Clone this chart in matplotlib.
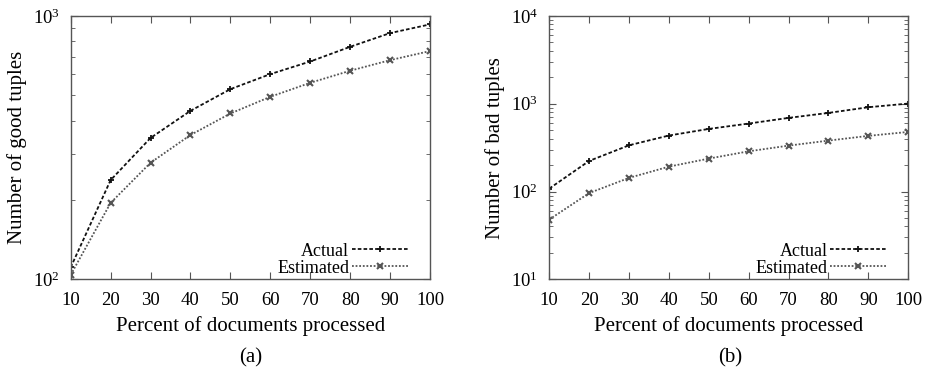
import matplotlib
matplotlib.use("Agg")
import matplotlib.pyplot as plt
from matplotlib.ticker import LogLocator, FixedLocator, NullFormatter

plt.rcParams['font.family'] = ['Liberation Serif', 'DejaVu Serif']
plt.rcParams['mathtext.fontset'] = 'stix'

pct = [10, 20, 30, 40, 50, 60, 70, 80, 90, 100]

# (a) good tuples
good_actual = [111, 238, 344, 436, 527, 601, 671, 763, 860, 928]
good_est = [104, 195, 277, 353, 426, 493, 557, 619, 679, 735]

# (b) bad tuples
bad_actual = [108, 223, 336, 434, 516, 594, 689, 785, 911, 1003]
bad_est = [48, 96, 143, 192, 237, 287, 333, 380, 430, 477]

fig = plt.figure(figsize=(9.25, 3.77), dpi=100)
ax1 = fig.add_axes([0.0764, 0.259, 0.3885, 0.699])
ax2 = fig.add_axes([0.5938, 0.259, 0.3881, 0.699])


def panel(ax, act, est, ylim, ylabel, caption, cx):
    ax.plot(pct, act, color='#111111', ls=(0, (2, 1.2)), lw=1.3,
            marker='+', ms=5, mew=1.3, label='Actual')
    ax.plot(pct, est, color='#555555', ls=(0, (1, 1)), lw=1.3,
            marker='x', ms=4, mew=1.5, label='Estimated')
    ax.set_yscale('log')
    ax.set_xlim(10, 100)
    ax.set_ylim(*ylim)
    ax.xaxis.set_major_locator(FixedLocator(pct))
    ax.yaxis.set_major_locator(LogLocator(base=10))
    ax.yaxis.set_minor_locator(LogLocator(base=10, subs=range(2, 10)))
    ax.yaxis.set_minor_formatter(NullFormatter())
    ax.tick_params(which='both', direction='in', top=True, right=True,
                   labelsize=13.5, color='#555555')
    ax.tick_params(which='major', length=5)
    ax.tick_params(which='minor', length=3)
    ax.tick_params(axis='x', pad=9)
    ax.tick_params(axis='y', pad=8)
    for s in ax.spines.values():
        s.set_color('#555555')
        s.set_linewidth(1.0)
    ax.set_xlabel('Percent of documents processed', fontsize=15, labelpad=5)
    ax.set_ylabel(ylabel, fontsize=15, labelpad=4)
    ax.legend(loc='lower right', bbox_to_anchor=(0.946, 0.0), frameon=False,
              markerfirst=False, numpoints=1, fontsize=13, handlelength=3.1,
              handletextpad=0.15, labelspacing=0.0, borderpad=0.15,
              borderaxespad=0.0)
    fig.text(cx, 0.052, caption, fontsize=15, ha='center', va='center')


panel(ax1, good_actual, good_est, (100, 1000), 'Number of good tuples', '(a)', 0.271)
panel(ax2, bad_actual, bad_est, (10, 10000), 'Number of bad tuples', '(b)', 0.789)

fig.savefig('out.png', dpi=100)
